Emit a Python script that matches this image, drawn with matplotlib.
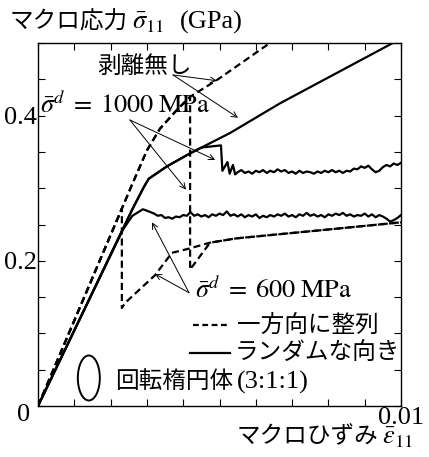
import matplotlib
matplotlib.use("Agg")
import matplotlib.pyplot as plt
from matplotlib.patches import Ellipse
import numpy as np

plt.rcParams["mathtext.fontset"] = "stix"
plt.rcParams["font.family"] = ["Liberation Serif", "DejaVu Serif"]
JP = ["Noto Sans CJK JP", "DejaVu Sans"]

# --- data (strain, stress in GPa) ---
# aligned ellipsoids (dashed)
eps_al_nodeb = [0, 0.0026, 0.0030, 0.00336, 0.00383, 0.00419, 0.00493, 0.00556, 0.00639, 0.0070]
sig_al_nodeb = [0, 0.306, 0.352, 0.382, 0.408, 0.426, 0.449, 0.471, 0.500, 0.521]

eps_al_1000 = [0, 0.0026, 0.0030, 0.00336, 0.00383, 0.00419, 0.00419, 0.00474, 0.00548, 0.00777, 0.0100]
sig_al_1000 = [0, 0.306, 0.352, 0.382, 0.408, 0.426, 0.188, 0.225, 0.231, 0.242, 0.253]

eps_al_600 = [0, 0.00231, 0.00231, 0.0024, 0.00322, 0.00369, 0.0041, 0.00474, 0.00548, 0.00777, 0.0100]
sig_al_600 = [0, 0.272, 0.135, 0.142, 0.180, 0.211, 0.216, 0.225, 0.231, 0.242, 0.253]

# random orientation (solid)
eps_rd_nodeb = [0, 0.00259, 0.00292, 0.00305, 0.00355, 0.00419, 0.00529, 0.00667, 0.0100]
sig_rd_nodeb = [0, 0.270, 0.302, 0.313, 0.330, 0.348, 0.376, 0.417, 0.506]

eps_rd_1000_head = [0, 0.00259, 0.00292, 0.00305, 0.00355, 0.00419, 0.0045, 0.00504,
                    0.00508, 0.00522, 0.00528, 0.00537, 0.00543]
sig_rd_1000_head = [0, 0.270, 0.302, 0.313, 0.330, 0.348, 0.356, 0.359,
                    0.324, 0.336, 0.320, 0.332, 0.319]
# plateau, sampled every 0.0001 from 0.0055 to 0.0100
sig_rd_1000_tail = [0.322, 0.325, 0.321, 0.323, 0.320, 0.324, 0.322, 0.325, 0.321, 0.324,
                    0.322, 0.326, 0.323, 0.325, 0.321, 0.323, 0.320, 0.324, 0.321, 0.323,
                    0.322, 0.320, 0.323, 0.321, 0.324, 0.322, 0.325, 0.322, 0.324, 0.321,
                    0.324, 0.323, 0.327, 0.326, 0.330, 0.328, 0.331, 0.326, 0.322, 0.324,
                    0.329, 0.332, 0.330, 0.334, 0.332, 0.335]

eps_rd_600_head = [0, 0.00234, 0.0026, 0.00289]
sig_rd_600_head = [0, 0.243, 0.262, 0.271]
# plateau, sampled every 0.0001 from 0.0030 to 0.0100
sig_rd_600_tail = [0.269, 0.267, 0.265, 0.262, 0.263, 0.259, 0.260, 0.258, 0.261, 0.260,
                   0.263, 0.262, 0.267, 0.262, 0.264, 0.261, 0.263, 0.260, 0.264, 0.262,
                   0.265, 0.263, 0.268, 0.262, 0.264, 0.261, 0.264, 0.260, 0.263, 0.261,
                   0.264, 0.259, 0.262, 0.260, 0.263, 0.261, 0.264, 0.262, 0.265, 0.261,
                   0.263, 0.260, 0.264, 0.262, 0.266, 0.262, 0.264, 0.261, 0.263, 0.260,
                   0.264, 0.262, 0.265, 0.263, 0.266, 0.262, 0.264, 0.261, 0.263, 0.262,
                   0.265, 0.261, 0.264, 0.260, 0.263, 0.261, 0.258, 0.254, 0.256, 0.259,
                   0.263]

x_ticks = np.linspace(0, 0.01, 11)
x_tick_labels = ["", "", "", "", "", "", "", "", "", "", "0.01"]
y_ticks = np.linspace(0, 0.5, 11)
y_tick_labels = ["", "", "", "", "0.2", "", "", "", "0.4", "", ""]

eps_1000_tail = np.linspace(0.0055, 0.0100, len(sig_rd_1000_tail))
eps_600_tail = np.linspace(0.0030, 0.0100, len(sig_rd_600_tail))

W, H = 429, 457


def px(x, y):
    return x / W, 1 - y / H


fig = plt.figure(figsize=(W / 100, H / 100), dpi=100)
ax = fig.add_axes([38 / W, 1 - 406 / H, 363 / W, 363 / H])

lw = 1.6
dash = (3.2, 1.8)
ax.plot(eps_al_nodeb, sig_al_nodeb, color="black", lw=lw, dashes=dash)
ax.plot(eps_al_1000, sig_al_1000, color="black", lw=lw, dashes=dash)
ax.plot(eps_al_600, sig_al_600, color="black", lw=lw, dashes=dash)
ax.plot(eps_rd_nodeb, sig_rd_nodeb, color="black", lw=lw)
ax.plot(eps_rd_1000_head + list(eps_1000_tail), sig_rd_1000_head + sig_rd_1000_tail,
        color="black", lw=lw)
ax.plot(eps_rd_600_head + list(eps_600_tail), sig_rd_600_head + sig_rd_600_tail,
        color="black", lw=lw)

ax.set_xlim(0, 0.01)
ax.set_ylim(0, 0.5)
ax.set_xticks(x_ticks)
ax.set_xticklabels(x_tick_labels)
ax.set_yticks(y_ticks)
ax.set_yticklabels(y_tick_labels)
ax.tick_params(direction="in", top=True, right=True, length=5, width=0.8,
               labelsize=19, pad=1)
for s in ax.spines.values():
    s.set_linewidth(1.0)

# arrows
arrow = dict(arrowstyle="->", lw=0.7, color="black", shrinkA=0, shrinkB=0,
             mutation_scale=10)
ax.annotate("", xy=(0.00493, 0.448), xytext=(0.00372, 0.456), arrowprops=arrow)
ax.annotate("", xy=(0.00551, 0.397), xytext=(0.00372, 0.456), arrowprops=arrow)
ax.annotate("", xy=(0.00488, 0.339), xytext=(0.00253, 0.394), arrowprops=arrow)
ax.annotate("", xy=(0.00408, 0.298), xytext=(0.00253, 0.394), arrowprops=arrow)
ax.annotate("", xy=(0.00314, 0.253), xytext=(0.00416, 0.156), arrowprops=arrow)
ax.annotate("", xy=(0.00322, 0.182), xytext=(0.00416, 0.156), arrowprops=arrow)

# spheroid symbol
ax.add_patch(Ellipse((0.0014, 0.0386), width=0.000606, height=0.062,
                     fill=False, lw=1.4, color="black"))

# legend samples
fig.add_artist(plt.Line2D([193 / W, 230 / W], [1 - 325 / H] * 2, color="black",
                          lw=lw, dashes=(2.6, 1.6)))
fig.add_artist(plt.Line2D([190 / W, 230 / W], [1 - 353 / H] * 2, color="black", lw=lw))

# texts
fs_jp = 17
fs_rm = 19
fig.text(*px(10, 22), "マクロ応力", family=JP, fontsize=fs_jp, va="center")
fig.text(*px(132, 29), "$\\bar{\\sigma}_{11}$", fontsize=fs_rm, va="baseline")
fig.text(*px(180, 29), "(GPa)", fontsize=fs_rm, va="baseline")
fig.text(*px(378, 437), "マクロひずみ", family=JP, fontsize=fs_jp, va="center", ha="right")
fig.text(*px(382, 444), "$\\bar{\\varepsilon}_{11}$", fontsize=fs_rm, va="baseline")
fig.text(*px(145, 66), "剥離無し", family=JP, fontsize=fs_jp, va="center", ha="center")
fig.text(*px(40, 113), "$\\bar{\\sigma}^d\\;=\\;1000\\;\\mathrm{MPa}$",
         fontsize=fs_rm, va="baseline")
fig.text(*px(195, 298), "$\\bar{\\sigma}^d\\;=\\;600\\;\\mathrm{MPa}$",
         fontsize=fs_rm, va="baseline")
fig.text(*px(237, 325), "一方向に整列", family=JP, fontsize=fs_jp, va="center")
fig.text(*px(235, 353), "ランダムな向き", family=JP, fontsize=fs_jp, va="center")
fig.text(*px(115, 382), "回転楕円体", family=JP, fontsize=fs_jp, va="center")
fig.text(*px(237, 389), "(3:1:1)", fontsize=fs_rm, va="baseline")
fig.text(*px(24, 415), "0", fontsize=fs_rm, va="center", ha="center")

fig.savefig("out.png", dpi=100)
